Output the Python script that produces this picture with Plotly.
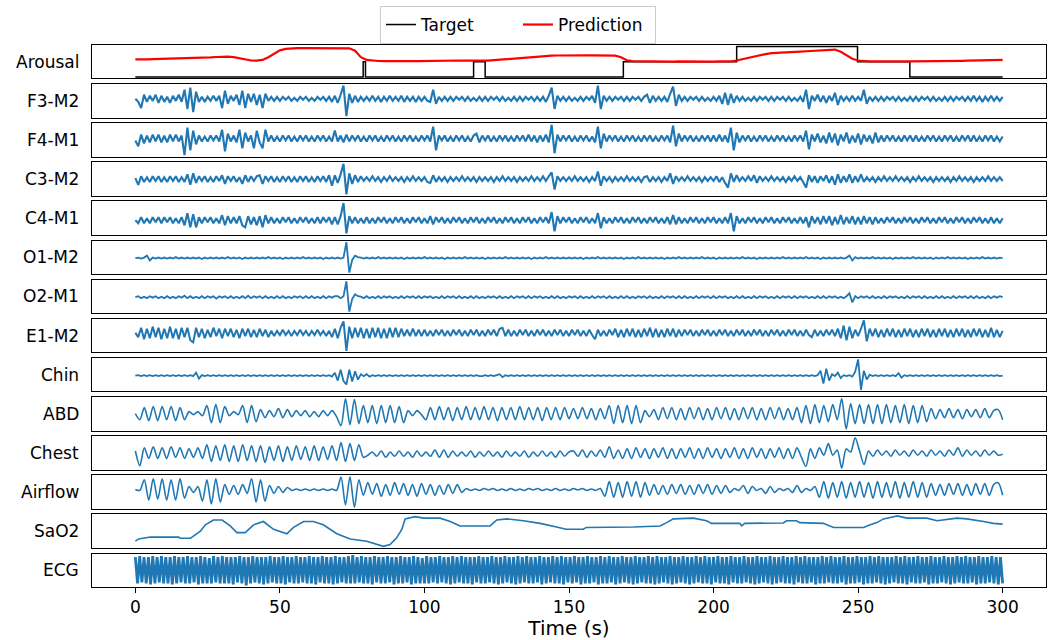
import numpy as np
import plotly.graph_objects as go
from plotly.subplots import make_subplots

# ---------------- data ----------------
# arousal target (step function) and model prediction
target_t = [0, 78.8, 79.6, 117.0, 121.0, 168.8, 208.0, 249.8, 267.9, 300]
target_v = [-1, 0, -1, 0, -1, 0, 1, 0, -1, -1]

# prediction, one value every 2 s
prediction = [
    0.15, 0.14, 0.15, 0.17, 0.18, 0.19, 0.18, 0.20, 0.21, 0.22,
    0.22, 0.24, 0.26, 0.29, 0.31, 0.34, 0.33, 0.30, 0.22, 0.12,
    0.08, 0.07, 0.12, 0.30, 0.55, 0.75, 0.84, 0.88, 0.89, 0.90,
    0.90, 0.89, 0.91, 0.90, 0.89, 0.90, 0.90, 0.88, 0.72, 0.30,
    0.12, 0.07, 0.05, 0.04, 0.05, 0.04, 0.03, 0.04, 0.05, 0.04,
    0.05, 0.06, 0.07, 0.09, 0.10, 0.09, 0.08, 0.07, 0.06, 0.05,
    0.05, 0.07, 0.10, 0.13, 0.17, 0.21, 0.25, 0.28, 0.31, 0.34,
    0.36, 0.38, 0.40, 0.41, 0.42, 0.43, 0.42, 0.43, 0.42, 0.42,
    0.42, 0.41, 0.42, 0.40, 0.30, 0.10, 0.04, 0.03, 0.02, 0.02,
    0.02, 0.01, 0.02, 0.01, 0.02, 0.01, 0.00, 0.01, 0.00, 0.01,
    0.01, 0.02, 0.01, 0.03, 0.08, 0.17, 0.27, 0.36, 0.43, 0.50,
    0.56, 0.59, 0.61, 0.63, 0.65, 0.67, 0.69, 0.72, 0.74, 0.76,
    0.79, 0.80, 0.65, 0.40, 0.20, 0.08, 0.04, 0.03, 0.03, 0.02,
    0.02, 0.02, 0.01, 0.02, 0.02, 0.02, 0.03, 0.02, 0.03, 0.03,
    0.04, 0.05, 0.05, 0.06, 0.07, 0.08, 0.09, 0.09, 0.10, 0.11,
    0.12,
]

# EEG / EOG channels, one sample per second (offsets in px-like units)
f3_m2 = [
    0, -3, -9, 4, -3, 3, -2, 4, -4, 3,
    -3, 2, -4, 3, -2, 4, -3, 9, -10, 11,
    -13, 7, -3, 2, -3, 2, -2, 3, -2, 3,
    -9, 8, -5, 3, -2, 4, -6, 8, -9, 5,
    -3, 5, -6, 4, -9, 5, -2, 2, -2, 2,
    -2, 2, -1, 2, -2, 1, -2, 2, -1, 2,
    -2, 1, -2, 2, -1, 2, -2, 2, -3, 3,
    -4, 4, 13, -17, 5, -4, 3, -3, 2, -2,
    2, -2, 3, -2, 2, -3, 2, -2, 3, -2,
    2, -2, 3, -3, 2, -2, 2, -3, 2, -2,
    2, -2, -3, 9, -5, 2, -2, 2, -2, 2,
    -2, 2, -1, 2, -2, 2, -2, 1, -2, 2,
    -2, 2, -2, 2, -1, 2, -2, 2, -2, 1,
    -2, 2, -2, 2, -2, 2, -1, 2, -2, 2,
    -2, 2, -3, 3, 11, -10, 3, -2, 2, -2,
    2, -2, 1, -2, 2, -2, 2, -1, 3, -4,
    13, -10, 3, -2, 2, -2, 2, -1, 2, -2,
    2, -2, 2, -1, 2, -2, 2, 4, -4, 3,
    -2, 2, -2, 2, -3, 5, 12, -7, 4, -2,
    2, -2, 2, -1, 2, -2, 2, -2, 1, -2,
    2, -2, 3, -5, 6, -6, 5, -4, 3, -2,
    2, -2, 1, -2, 2, -2, 2, -1, 2, -2,
    2, -2, 2, -1, 2, -2, 2, -2, 1, -2,
    2, -3, 9, -10, 3, -2, 4, -3, 3, -4,
    3, -2, 6, -6, 3, -2, 2, -2, 3, -2,
    2, -2, 9, -5, 2, -2, 2, -2, 2, -2,
    2, -1, 2, -2, 2, -2, 1, -2, 2, -2,
    2, -2, 2, -1, 2, -2, 2, -2, 1, -2,
    2, -2, 2, -2, 2, -1, 2, -2, 2, -2,
    3, -2, 2, -3, 2, -2, 3, -2, 2, -2,
    2,
]

f4_m1 = [
    -2, -8, 4, -5, 3, -4, 4, -3, 4, -4,
    3, -4, 4, -3, 4, -3, 3, -17, 11, -12,
    8, -6, 3, -3, 2, -3, 3, -2, 3, -3,
    9, -13, 5, -3, 3, -4, 9, -10, 6, -3,
    3, -10, 8, -4, -10, 9, -3, 3, -3, 2,
    -3, 3, -2, 3, -3, 2, -3, 3, -2, 3,
    -3, 2, -3, 3, -2, 3, -3, 2, -3, 8,
    -3, 3, -4, 4, -3, 3, -2, 3, -3, 2,
    -3, 3, -2, 3, -3, 2, -3, 3, -2, 3,
    -3, 2, -3, 3, -2, 3, -3, 2, -3, 3,
    -2, 3, -3, 12, -12, 3, -2, 3, -3, 2,
    -3, 3, -2, 3, -3, 2, -3, 3, 5, -4,
    3, -2, 3, -3, 2, -3, 3, -2, 3, -3,
    2, -3, 3, -2, 3, -3, 4, -3, 3, -4,
    3, -3, 4, -4, 14, -15, 4, -3, 3, -2,
    3, -3, 2, -3, 3, -2, 3, -3, 2, -4,
    12, -10, 5, -3, 3, -2, 3, -3, 2, -3,
    3, -2, 3, -3, 2, -3, 3, -2, 3, -3,
    2, -3, 3, -2, 3, -4, 13, -8, 5, -3,
    3, -2, 3, -3, 2, -3, 3, -2, 3, -3,
    3, -3, 4, -3, 3, -4, 11, -12, 6, -4,
    3, -2, 3, -3, 2, -3, 3, -2, 3, -3,
    2, -3, 3, -2, 3, -3, 2, -3, 3, -2,
    3, -3, 8, -11, 4, -3, 5, -4, 3, -5,
    6, -4, 5, -7, 4, -3, 6, -5, 3, -4,
    5, -6, 4, -3, 3, -5, 6, -4, 3, -3,
    3, -2, 3, -3, 2, -3, 3, -2, 3, -3,
    3, -3, 2, -3, 3, -2, 3, -3, 2, -3,
    3, -2, 3, -3, 2, -3, 3, -2, 3, -3,
    3, -3, 2, -3, 3, -2, 3, -3, 2, -3,
    2,
]

c3_m2 = [
    1, -6, 3, -3, 2, -3, 3, -2, 3, -3,
    2, -3, 3, -2, 3, -3, 2, -3, 5, -6,
    6, -4, 3, -2, 3, -3, 2, -3, 3, -2,
    4, -5, 3, -2, 3, -3, 2, -5, 4, -3,
    3, -2, 3, 4, -5, 3, -2, 3, -3, 2,
    -3, 3, -2, 3, -3, 2, -3, 3, -2, 3,
    -3, 2, -3, 3, -2, 3, -3, 4, -7, 4,
    -4, 5, 16, -16, 6, -5, 4, -3, 3, -2,
    2, -2, 3, -2, 2, -3, 2, -2, 3, -2,
    2, -2, 2, -3, 2, -2, 3, -2, 2, -2,
    2, -3, -4, 4, -3, 2, -2, 2, -3, 2,
    -2, 2, -2, 3, -2, 2, -2, 2, -3, 2,
    -2, 2, -2, 2, -3, 2, -2, 3, -2, 2,
    -2, 2, -3, 2, -2, 2, -2, 3, -2, 2,
    -2, 3, -2, 3, 7, -11, 3, -2, 2, -2,
    2, -2, 3, -2, 2, -2, 2, -3, 2, -2,
    8, -7, 3, -2, 2, -3, 2, -2, 2, -2,
    3, -2, 2, -2, 2, -3, 2, 3, -3, 2,
    -2, 2, -3, 2, -2, 6, -5, 3, -2, 2,
    -2, 3, -2, 2, -2, 2, -3, 2, -2, 2,
    -2, 3, -3, 2, -4, -9, 6, -3, 4, -2,
    2, -2, 3, -2, 4, -4, 3, -2, 2, -2,
    3, -2, 2, -2, 2, -3, 2, -2, 3, -2,
    2, -3, -9, 4, -3, 3, -4, 3, -2, 4,
    -4, 3, -6, 5, -4, 3, -3, 5, -4, 3,
    -3, 5, -3, 2, -2, 2, -3, 2, -2, 3,
    -2, 2, -2, 3, -2, 2, -2, 2, -3, 2,
    -2, 3, -2, 2, -2, 2, -3, 2, -2, 2,
    -2, 2, -3, 2, -2, 3, -2, 2, -2, 2,
    -3, 2, -2, 2, -2, 3, -2, 2, -2, 2,
    -2,
]

c4_m1 = [
    0, -3, 3, -3, 2, -3, 3, -2, 3, -3,
    3, -2, 3, -3, 2, -3, 3, -5, 7, -7,
    6, -7, 3, -3, 3, -2, 3, -3, 2, -3,
    5, -5, 4, -3, 3, -3, 4, -5, -7, 4,
    -4, 3, -5, 4, -7, 5, -3, 3, -3, 2,
    -3, 3, -2, 3, -3, 2, -3, 3, -2, 3,
    -3, 2, -3, 3, -3, 3, -2, 3, -4, 3,
    -4, 4, 17, -13, 4, -3, 3, -3, 2, -3,
    3, -3, 2, -3, 3, -2, 3, -3, 2, -3,
    3, -2, 3, -3, 2, -3, 3, -2, 3, -3,
    2, -3, 4, -4, 3, -2, 3, -3, 2, -3,
    3, -2, 3, -3, 2, -3, 3, -2, 3, -3,
    2, -3, 3, -2, 3, -3, 2, -3, 3, -2,
    3, -3, 2, -3, 3, -2, 3, -3, 2, -3,
    3, -2, 3, -3, 8, -11, 4, -3, 3, -2,
    3, -3, 2, -3, 3, -2, 3, -3, 2, -3,
    7, -8, 3, -3, 2, -3, 3, -2, 3, -3,
    2, -3, 3, -2, 3, -3, 2, -3, 3, -2,
    3, -3, 2, -3, 3, -4, 5, -4, 3, -3,
    2, -3, 3, -2, 3, -3, 2, -3, 3, -2,
    3, -3, 2, -3, 3, -3, 7, -11, 4, -3,
    2, -3, 3, -2, 3, -3, 2, -3, 3, -2,
    3, -3, 2, -3, 3, -2, 3, -3, 2, -3,
    3, -3, 3, -7, 4, -3, 3, -4, 4, -3,
    4, -5, 3, -4, 5, -4, 3, -3, 4, -4,
    3, -4, 4, -3, 3, -4, 3, -3, 2, -3,
    3, -2, 3, -3, 2, -3, 3, -2, 3, -3,
    2, -3, 3, -2, 3, -3, 2, -3, 3, -2,
    3, -3, 2, -3, 3, -2, 3, -3, 2, -3,
    3, -2, 3, -3, 2, -3, 3, -3, 2, -3,
    2,
]

# occipital channels and chin EMG (half-px units)
o1_m2 = [
    0, 1, -1, 1, 5, -5, 1, -1, 1, -1,
    1, -1, 1, -1, 2, -1, 1, -1, 1, -1,
    1, -1, 1, -2, 1, -1, 1, -1, 1, -1,
    1, -1, 2, -1, 1, -1, 1, -2, 1, -1,
    1, -1, 1, -1, 1, -1, 2, -1, 1, -1,
    1, -2, 1, -1, 1, -1, 1, -1, 2, -1,
    1, -1, 1, -1, 1, -2, 1, -1, 1, -1,
    1, -1, 1, 33, -30, -4, 5, 2, 1, -1,
    1, -1, 1, -1, 2, -1, 1, -1, 1, -1,
    1, -1, 1, -2, 1, -1, 1, -1, 1, -1,
    2, -1, 1, -1, 1, -1, 1, -2, 1, -1,
    1, -1, 1, -1, 2, -1, 1, -1, 1, -1,
    1, -2, 1, -1, 1, -1, 1, -1, 2, -1,
    1, -1, 1, -1, 1, -1, 1, -2, 1, -1,
    1, -1, 2, -1, 1, -1, 1, -1, 1, -1,
    1, -1, 1, -1, 1, -2, 1, -1, 1, -1,
    2, -1, 1, -1, 1, -1, 1, -1, 1, -2,
    1, -1, 1, -1, 2, -1, 1, -1, 1, -1,
    1, -1, 1, -2, 1, -1, 1, -1, 2, -1,
    1, -1, 1, -1, 1, -1, 2, -1, 1, -1,
    1, -2, 1, -1, 1, -1, 1, -1, 1, -1,
    2, -1, 1, -1, 1, -2, 1, -1, 1, -1,
    1, -1, 1, -1, 2, -1, 1, -1, 1, -1,
    1, -1, 2, -1, 1, -1, 1, -2, 1, -1,
    1, -1, 1, -1, 1, -1, 1, 5, -5, 2,
    -1, 1, -1, 1, -1, 2, -1, 1, -1, 1,
    -1, 1, -2, 1, -1, 1, -1, 1, -1, 2,
    -1, 1, -1, 1, -1, 1, -2, 1, -1, 1,
    -1, 2, -1, 1, -1, 1, -1, 1, -2, 1,
    -1, 1, -1, 2, -1, 1, -1, 1, -1, 1,
    0,
]

o2_m1 = [
    0, 2, -2, 1, -2, 2, -1, 2, -2, 1,
    -2, 2, -2, 1, -2, 2, -1, 3, -2, 2,
    -2, 1, -2, 2, -2, 2, -1, 2, -3, 2,
    -1, 2, -2, 2, -2, 1, -2, 2, -2, 3,
    -2, 2, -1, 2, -2, 2, -2, 1, -2, 2,
    -2, 2, -2, 1, -2, 2, -1, 2, -2, 2,
    -2, 2, -2, 1, -2, 2, -2, 2, -1, 2,
    2, -2, 2, 33, -30, -4, 6, 2, 1, -2,
    2, -2, 1, -2, 2, -2, 2, -1, 2, -2,
    1, -2, 2, -2, 2, -1, 2, -2, 2, -2,
    2, -1, 2, -2, 1, -2, 2, -2, 2, -1,
    2, -2, 2, -2, 1, -2, 2, -2, 2, -2,
    1, -2, 2, -1, 2, -2, 2, -2, 1, -2,
    2, -2, 2, -1, 2, -2, 2, -2, 2, -1,
    2, -2, 1, -2, 2, -2, 2, -2, 1, -2,
    2, -1, 2, -2, 2, -2, 1, -2, 2, -2,
    2, -1, 2, -2, 2, -2, 1, -2, 2, -2,
    2, -2, 1, -2, 2, -1, 2, -2, 2, -2,
    1, -2, 2, -2, 2, -1, 2, -2, 2, -2,
    2, -2, 1, -2, 2, -2, 2, -1, 2, -2,
    2, -2, 2, -1, 2, -2, 1, -2, 2, -2,
    2, -2, 1, -2, 2, -2, 2, -1, 2, -2,
    1, -2, 2, -2, 2, -1, 2, -2, 2, -2,
    2, -1, 2, -2, 1, -2, 2, -2, 2, -2,
    2, -1, 2, -2, 1, -2, 2, 8, -11, 2,
    -2, 2, -1, 2, -2, 2, -2, 1, -2, 2,
    -2, 2, -1, 2, -2, 1, -2, 2, -2, 2,
    -1, 2, -2, 2, -2, 1, -2, 2, -2, 2,
    -2, 1, -2, 2, -2, 2, -1, 2, -2, 2,
    -2, 2, -2, 1, -2, 2, -2, 2, -1, 2,
    0,
]

e1_m2 = [
    0, -4, 5, -6, 4, -5, 6, -4, 5, -6,
    4, -5, 6, -5, 4, -6, 5, -4, 5, -7,
    -9, 5, -4, 4, -5, 3, -4, 5, -3, 4,
    -5, 4, -3, 4, -4, 3, -5, 4, -3, 4,
    -4, 3, -4, 4, -3, 3, -4, 2, -3, 2,
    -2, 3, -2, 2, -3, 2, -2, 3, -2, 2,
    -3, 2, -2, 3, -2, 2, -3, 2, -4, 4,
    -5, 5, 11, -17, 6, -5, 5, -4, 5, -5,
    4, -5, 5, -4, 5, -5, 4, -5, 5, -4,
    5, -4, 4, -3, 3, -3, 4, -3, 3, -3,
    3, -3, 2, -3, 3, -2, 3, -3, 2, -3,
    3, -2, 3, -3, 2, -3, 3, -2, 3, -3,
    2, -3, 3, -2, 3, -3, 4, 5, -3, 3,
    -3, 2, -3, 3, -2, 3, -3, 2, -3, 3,
    -2, 3, -3, 2, -3, 3, -2, 3, -3, 2,
    -3, 3, -2, 3, -3, 2, -3, 3, -2, -6,
    3, -3, 2, -3, 3, -2, 4, -4, 3, -4,
    4, -3, 4, -4, 3, -4, 4, -3, 5, -4,
    4, -4, 3, -4, 4, -3, 4, -4, 3, -3,
    3, -2, 3, -3, 2, -3, 3, -2, 3, -3,
    2, -3, 3, -2, 3, -3, 2, -3, 3, -2,
    3, -3, 2, -3, 3, -2, 3, -3, 2, -3,
    3, -2, 3, -3, 2, -3, 3, -2, 3, -3,
    2, -3, 3, -2, -4, 3, -3, 2, -3, 3,
    -2, 3, -3, 4, -5, 7, -7, 6, -5, 3,
    -3, 4, 12, -8, 4, -3, 4, -4, 3, -4,
    4, -3, 4, -4, 3, -4, 4, -3, 4, -4,
    3, -4, 4, -3, 4, -4, 3, -4, 4, -3,
    4, -4, 3, -4, 4, -3, 4, -4, 3, -4,
    4, -3, 4, -4, 3, -4, 5, -4, 3, -4,
    2,
]

chin = [
    0, 1, -1, 1, -1, 1, -1, 1, -1, 1,
    -1, 1, -1, 1, -1, 1, -1, 1, -1, 1,
    -1, 6, -6, 1, -1, 1, -1, 1, -1, 1,
    -1, 1, -1, 1, -1, 1, -1, 1, -1, 1,
    -1, 1, -1, 1, -1, 1, -1, 1, -1, 1,
    -1, 1, -1, 1, -1, 1, -1, 1, -1, 1,
    -1, 1, -1, 1, -1, 1, -1, 1, -2, 6,
    -10, 12, -11, -18, 12, -12, 9, -8, 3, -1,
    3, -2, 1, -1, 1, -1, 1, -1, 1, -1,
    1, -1, 1, -1, 1, -1, 1, -1, 1, -1,
    1, -1, 1, -1, 1, -1, 1, -1, 1, -1,
    1, -1, 1, -1, 1, -1, 1, -1, 1, -1,
    -1, 1, -1, 1, -1, 1, 3, -3, 1, -1,
    1, -1, 1, -1, 1, -1, 1, -1, 1, -1,
    1, -1, 1, -1, 1, -1, 1, -1, 1, -1,
    1, -1, 1, -1, 1, -1, 1, -1, 1, -1,
    1, -1, 1, -1, 1, -1, 1, -1, 1, -1,
    1, -1, 1, -1, 1, -1, 1, -1, 1, -1,
    1, -1, 1, -1, 1, -1, 1, -1, 1, -1,
    1, -1, 1, -1, 1, -1, 1, -1, 1, -1,
    1, -1, 1, -1, 1, -1, 1, -1, 1, -1,
    1, -1, 1, -1, 1, -1, 1, -1, 1, -1,
    1, -1, 1, -1, 1, -1, 1, -1, 1, -1,
    1, -1, 1, -1, 1, -1, 1, 10, -16, 14,
    -10, 3, -1, 6, -5, 1, -1, 1, -2, 8,
    33, -29, 10, -8, 2, -1, 1, -1, 1, -1,
    1, -1, 1, -1, 5, -4, 1, -1, 1, -1,
    1, -1, 1, -1, 1, -1, 1, -1, 1, -1,
    1, -1, 1, -1, 1, -1, 1, -1, 1, -1,
    1, -1, 1, -1, 1, -1, 1, -1, 1, -1,
    0,
]

# respiratory channels: successive breath peaks / troughs (195 turning points)
abd = [
    0, -6, 6, -7, 7, -7, 7, -6, 7, -7, 6, -6,
    2, -1, 2, -2,
    8, -9, 9, -9, 7,
    -2, 2, -1,
    8, -9, 8, -8,
    4, -4, 3, -3, 5, -4, 4, -3, 3, -2, 3, -3, 2, -3, 3, -2, 3, -3,
    -12, 14.7, -11, 14, -10,
    8, -9, 8, -10, 8, -9, 8, -9, 7, -9,
    3, -2, 3, -1,
    -6, 6, -6, 7, -6, 6, -7, 6, -6, 7, -6, 6, -6, 7, -6, 6, -7,
    6, -6, 6, -6, 7, -6, 6, -6, 6, -7, 6, -6, 6, -6, 6, -5,
    5, -5, 6, -5, 5, -6, 5, -5,
    8, -10, 8, -9, 8, -10, 8, -9,
    3, -3, 4,
    -6, 6, -5, 6, -6, 5, -6, 6, -5, 6, -6, 5, -6, 6, -5, 6,
    -6, 5, -6, 6, -5, 6, -6, 5, -6, 6, -5, 6, -6, 5, -6, 6,
    -9, 8, -10, 9, -9,
    8, -8, 9, -6, 15, -15.3, 10,
    -10, 9, -10, 9, -10, 9, -10, 9, -9, 8, -9, 9, -10, 8, -9, 8, -8,
    5, -5, 4, -4, 5, -4, 4, -5, 4, -3, 4, -4, 5, -4, 3, 4, -6,
]

chest = [
    1, -13, 4, -6, 5, -6, 4, -6, 5, -5, 4, -6, 3, -5, 4, -6,
    7, -9, 6, -8, 7, -9, 6, -9, 7, -8, 6, -9, 6, -10,
    5, -8, 6, -9, 5, -8, 6, -7, 5, -8, 6, -8, 5, -7, 6, -8,
    9, -9, 8, -8, 7,
    -5, -3,
    0, -4, 1, -5, 0, -4, 1, -4, 0, -5, 1, -4, 0, -4, 2, -5, 2, -5, 1, -4, 0, -4, 1,
    -5, 0, -4, 1, -4, 0, -5, 1, -4, 0, -4, 1, -5, 0, -4, 1, -4, 0, -5, 1, -4, 0,
    1, -4, 2, -5, 1, -4, 2, -5, 5, -6, 2,
    -6, 3, -6, 4, -5, 3, -6, 3, -5, 4, -6, 3, -6, 3, -5, 4, -6, 3, -6, 4,
    -5, 3, -6, 3, -5, 4, -6, 3, -6, 4, -5, 3, -6, 3, -5, 4, -6, 3, -6, 4,
    -5, -13.7, 3, -6, 4, -3, 8, -3, 2, -15.3, 3, 0, 13.7, 1, -12,
    1, -4, 2, -3, 1, -4, 2, -3, 1, -4, 2, -3, 1, -4, 2, -3,
    1, -4, 2, -3, 4, -4, 2, -3, 1, -4, 2, -3, 1, -3, -2,
]

airflow = [
    0, -1,
    10, -11, 11, -10, 11, -11, 10, -11, 11, -9,
    3, -3, 3,
    -12, 10, -15, 11, -13,
    5, -5, 4, -5, 5, -4,
    11, -13, 10, -12,
    4, -4, 3, -3, 2,
    -1, 0.5, -1, 0.5, -1, 0.5, -1, 0.5, -1, 0.5, -1,
    12.7, -16, 13, -18.3, 10,
    -6, 7, -5, 6, -7, 5, -6, 7, -5, 6, -6, 5, -7, 6,
    -5, 5, -6, 4, -5, 5, -4, 5, -3,
    1, -1, 0.5, -1, 1, -0.5, 1, -1, 0.5, -1, 1, -1, 0.5, -1, 1, -0.5,
    1, -1, 0.5, -1, 1, -1, 0.5, -1, 1, -0.5, 1, -1, 0.5, -1, 1,
    -7, 8, -8, 7, -8, 8, -7, 8, -8, 7, -6,
    5, -5, 4, -5, 5, -4, 5, -5, 4, -5, 5, -4, 5, -5, 4, -4,
    4, -3, 1, -1, 4, -4, 3, -1, 1, -4, 3, -3, 1, -1, 1, -3, 4, -3, 1, -1, 3,
    -8, 8, -9, 7, -8, 8, -9, 7, -8, 8, -8, 7, -9, 8, -8, 7, -8, 8, -9, 7,
    -8, 8, -8, 7, -8,
    6, -6, 5, -6, 6, -5, 6, -6, 5, -6, 6, -5, 6, -6, 5, 7, -6,
]

# oxygen saturation (%)
sao2_t = [0, 1.2, 5.2, 15, 15.5, 19, 19.6, 22.5, 24.2, 27,
          30, 32.8, 35.1, 38, 40.9, 44.3, 47.8, 52.4, 54.7, 58.2,
          61.6, 65, 69.7, 74.3, 80, 85.8, 88.1, 90.4, 92.2, 93.3,
          96.8, 99.7, 105.4, 108.9, 112.3, 122.7, 125, 128.5, 134.2, 140,
          145.7, 149, 154.9, 156, 172.3, 181.5, 183.8, 186.1, 193, 197.6,
          199.3, 209.1, 209.7, 210.8, 224.1, 225.3, 228.7, 229.8, 238, 241.5,
          251.9, 254.2, 256.5, 258.8, 262.3, 263.5, 266.9, 273.8, 277.3, 284.2,
          287.6, 293.4, 296.8, 300]
sao2 = [90.4, 91.0, 91.5, 91.5, 91.2, 91.2, 91.5, 93.1, 94.8, 96.1,
        96.1, 94.5, 92.7, 92.7, 94.8, 95.7, 93.6, 92.4, 94.1, 95.7,
        95.7, 94.8, 92.4, 91.0, 90.4, 89.0, 89.5, 91.3, 93.6, 96.4,
        97.0, 96.6, 96.6, 95.7, 94.5, 94.5, 96.1, 96.4, 95.9, 95.2,
        94.2, 93.6, 93.6, 94.1, 94.2, 94.5, 95.4, 96.4, 96.6, 95.9,
        95.2, 95.2, 94.5, 95.2, 95.3, 95.9, 95.9, 95.4, 95.2, 94.1,
        94.1, 94.8, 95.4, 96.4, 97.0, 97.2, 96.6, 96.6, 95.9, 96.6,
        96.4, 95.7, 95.2, 95.0]

# ECG: successive R-peak / S-trough extremes
ecg = [
    13, -13, 14, -12, 13, -13, 13, -14, 14, -13, 13, -12, 14, -13, 13, -13, 13, -14, 14, -13,
    13, -12, 13, -13, 14, -13, 13, -12, 13, -14, 14, -13, 13, -13, 12, -13, 14, -12, 13, -13,
    14, -13, 13, -13, 13, -14, 13, -12, 14, -13, 13, -15, 13, -13, 14, -12, 13, -13, 13, -14,
    13, -13, 14, -12, 13, -13, 13, -13, 14, -14, 13, -12, 13, -13, 14, -13, 13, -12, 13, -13,
    14, -13, 13, -14, 13, -12, 14, -13, 13, -13, 13, -14, 14, -13, 13, -12, 13, -13, 14, -13,
    15, -13, 13, -12, 14, -13, 13, -13, 13, -14, 14, -12, 13, -13, 13, -13, 14, -12, 13, -14,
    13, -13, 14, -13, 13, -12, 13, -14, 14, -13, 13, -13, 12, -13, 14, -13, 13, -12, 13, -13,
    14, -12, 13, -13, 13, -14, 14, -13, 13, -12, 14, -13, 13, -13, 13, -14, 13, -12, 14, -13,
    13, -13, 13, -12, 14, -13, 13, -14, 13, -13, 14, -12, 13, -13, 13, -14, 14, -13, 13, -12,
    14, -13, 13, -13, 13, -12, 14, -14, 13, -13, 13, -12, 14, -13, 13, -13, 14, -14, 13, -12,
    13, -13, 14, -12, 13, -14, 13, -13, 14, -13, 13, -12, 13, -14, 14, -13, 13, -13, 14, -12,
    13, -14, 13, -13, 14, -12, 13, -13, 13, -14, 14, -13, 13, -12, 13, -13, 14, -13, 13, -14,
    14, -13, 13, -12, 13, -13, 14, -14, 13, -13, 13, -12, 14, -13, 13, -14, 13, -13, 14, -12,
    13, -13, 14, -13, 13, -14, 13, -12, 14, -13, 13, -13, 13, -14, 14, -12, 13, -13, 13, -13,
    14, -12, 13, -13, 13, -14, 14, -13, 13, -12, 13, -13, 14, -14, 13, -13, 13, -12, 14, -13,
    13, -13, 13, -14, 14, -12, 13, -13, 14, -13, 13, -12, 13, -14, 13, -13, 14, -13, 13, -12,
    14, -13, 13, -13, 13, -12, 14, -14, 13, -13, 13, -13, 14, -12, 13, -14, 13, -13, 14, -13,
    13, -12, 14, -13, 13, -14, 13, -13, 13, -12, 14, -13, 13, -13, 14, -14, 13, -12, 13, -13,
    14, -13, 13, -12, 13, -14, 14, -13, 13, -13, 13, -12, 14, -13, 13, -14, 13, -13, 14, -12,
    13, -13, 14, -13, 13, -12, 13, -14, 14, -13, 13, -13, 13, -12, 14, -13, 13, -14, 13, -13,
]

channel_labels = ["Arousal", "F3-M2", "F4-M1", "C3-M2", "C4-M1", "O1-M2", "O2-M1",
                  "E1-M2", "Chin", "ABD", "Chest", "Airflow", "SaO2", "ECG"]
time_ticks = [0, 50, 100, 150, 200, 250, 300]

# ---------------- figure ----------------
BLUE = "#1f77b4"
FONT = "DejaVu Sans"
n_rows = len(channel_labels)

fig = make_subplots(rows=n_rows, cols=1, shared_xaxes=True, vertical_spacing=0.0104)


def padded(values):
    lo, hi = float(np.min(values)), float(np.max(values))
    pad = 0.05 * (hi - lo)
    return [lo - pad, hi + pad]


def even_time(values):
    return np.linspace(0, 300, len(values))


# arousal row
fig.add_trace(go.Scatter(x=target_t, y=target_v, mode="lines", name="Target",
                         line=dict(color="black", width=1.5, shape="hv")), row=1, col=1)
fig.add_trace(go.Scatter(x=even_time(prediction), y=prediction, mode="lines",
                         name="Prediction", line=dict(color="red", width=2.2)), row=1, col=1)
fig.update_yaxes(range=padded(target_v + prediction), row=1, col=1)

signal_rows = [
    (f3_m2, "linear", 2.1), (f4_m1, "linear", 2.1), (c3_m2, "linear", 2.1),
    (c4_m1, "linear", 2.1), (o1_m2, "linear", 1.8), (o2_m1, "linear", 1.8),
    (e1_m2, "linear", 2.0), (chin, "linear", 1.8),
    (abd, "spline", 1.6), (chest, "spline", 1.6), (airflow, "spline", 1.6),
]
for i, (vals, shape, width) in enumerate(signal_rows, start=2):
    line = dict(color=BLUE, width=width, shape=shape, simplify=False)
    if shape == "spline":
        line["smoothing"] = 0.8
    fig.add_trace(go.Scatter(x=even_time(vals), y=vals, mode="lines", showlegend=False,
                             line=line), row=i, col=1)
    fig.update_yaxes(range=padded(vals), row=i, col=1)

fig.add_trace(go.Scatter(x=sao2_t, y=sao2, mode="lines", showlegend=False,
                         line=dict(color=BLUE, width=1.6, simplify=False)), row=13, col=1)
fig.update_yaxes(range=padded(sao2), row=13, col=1)

fig.add_trace(go.Scatter(x=even_time(ecg), y=ecg, mode="lines", showlegend=False,
                         line=dict(color=BLUE, width=2.8, simplify=False)), row=14, col=1)
fig.update_yaxes(range=padded(ecg), row=14, col=1)

fig.update_xaxes(range=[-15, 315], showgrid=False, zeroline=False, showline=True,
                 mirror=True, linecolor="black", linewidth=1, ticks="",
                 showticklabels=False)
fig.update_yaxes(showgrid=False, zeroline=False, showline=True, mirror=True,
                 linecolor="black", linewidth=1, ticks="", showticklabels=False)
fig.update_xaxes(row=n_rows, col=1, showticklabels=True, ticks="outside", ticklen=5,
                 tickwidth=1, tickcolor="black", tickvals=time_ticks,
                 tickfont=dict(family=FONT, size=17, color="black"),
                 title=dict(text="Time (s)", standoff=4,
                            font=dict(family=FONT, size=20, color="black")))

for i, label in enumerate(channel_labels, start=1):
    yref = "y domain" if i == 1 else f"y{i} domain"
    fig.add_annotation(text=label, xref="paper", x=0, xanchor="right", xshift=-11,
                       yref=yref, y=0.5, yanchor="middle", showarrow=False,
                       font=dict(family=FONT, size=17, color="black"))

fig.update_layout(
    width=1051, height=640,
    margin=dict(l=92, r=5, t=45, b=53),
    paper_bgcolor="white", plot_bgcolor="white",
    font=dict(family=FONT, size=17, color="black"),
    showlegend=True,
    legend=dict(orientation="h", x=0.4465, xanchor="center", y=1.072, yanchor="top",
                entrywidth=92, entrywidthmode="pixels", itemwidth=30,
                bordercolor="#cccccc", borderwidth=1, bgcolor="white",
                font=dict(family=FONT, size=17, color="black")),
)

fig.write_html("out.html")
